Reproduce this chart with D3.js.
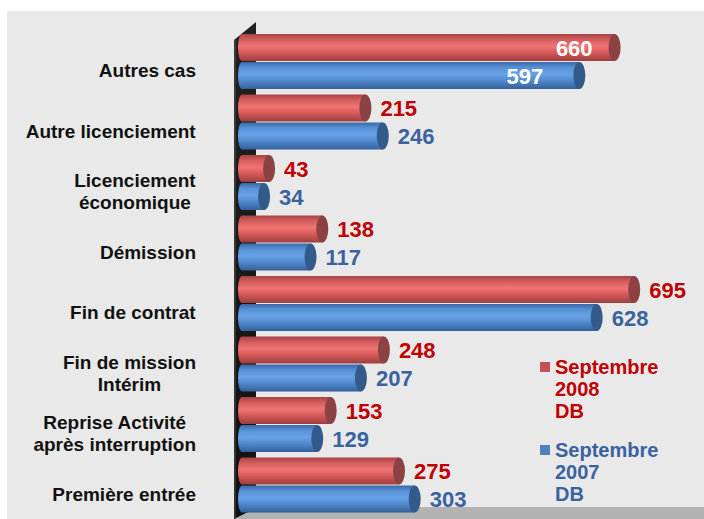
<!DOCTYPE html>
<html>
<head>
<meta charset="utf-8">
<script src="https://cdn.jsdelivr.net/npm/d3@7"></script>
<style>
  body { margin: 0; background: #fff; }
  text { font-family: "Liberation Sans", Arial, sans-serif; font-weight: bold; }
</style>
</head>
<body>
<svg width="704" height="519"></svg>
<script>
// categories, top to bottom (multi-line labels split with |)
var categories = ["Autres cas", "Autre licenciement", "Licenciement|économique", "Démission",
                  "Fin de contrat", "Fin de mission|Intérim", "Reprise Activité|après interruption", "Première entrée"];
var sept2008 = [660, 215, 43, 138, 695, 248, 153, 275];
var sept2007 = [597, 246, 34, 117, 628, 207, 129, 303];
var seriesNames = [["Septembre", "2008", "DB"], ["Septembre", "2007", "DB"]];

var width = 704, height = 519;
var svg = d3.select('svg');

var defs = svg.append('defs');
var mkGrad = function(id, stops) {
  var g = defs.append('linearGradient').attr('id', id)
      .attr('x1', 0).attr('y1', 0).attr('x2', 0).attr('y2', 1);
  stops.forEach(function(s) {
    g.append('stop').attr('offset', s[0]).attr('stop-color', s[1]);
  });
}
mkGrad('gRed', [[0, '#a84444'], [0.2, '#d35c5c'], [0.45, '#f07474'], [0.7, '#d45858'], [1, '#9c3e3e']]);
mkGrad('gBlue', [[0, '#3a68a6'], [0.2, '#5690d6'], [0.45, '#68a2e6'], [0.7, '#5088cc'], [1, '#34609a']]);
mkGrad('gWall', [[0, '#222'], [1, '#111']]);

// panel background
svg.append('rect').attr('x', 7).attr('y', 11).attr('width', width - 7).attr('height', height - 11)
    .attr('fill', '#e9e9e9');

// floor
svg.append('path').attr('d', 'M234,519 L252,507 L704,507 L704,519 Z').attr('fill', '#b3b3b3');

// back wall
svg.append('path').attr('d', 'M234,40 L256,22 L256,508 L234,519 Z').attr('fill', 'url(#gWall)');
svg.append('line').attr('x1', 235).attr('x2', 235).attr('y1', 40).attr('y2', 519)
    .attr('stroke', '#555').attr('stroke-width', 1);

var x = d3.scaleLinear().domain([0, 700]).range([245, 637]);
var y = d3.scaleBand().domain(categories).range([31, 515]);

var barH = 27, capRx = 6, x0 = 238;

var series = [
  {name: seriesNames[0], values: sept2008, fill: 'url(#gRed)', cap: '#8c4242', text: '#c00000', off: 3, inOff: 22},
  {name: seriesNames[1], values: sept2007, fill: 'url(#gBlue)', cap: '#325a8a', text: '#3a62a0', off: 31, inOff: 36}
];

series.forEach(function(s) {
  var g = svg.selectAll('.bar-' + s.off)
      .data(categories)
      .enter().append('g')
      .attr('transform', function(d) { return 'translate(0,' + (y(d) + s.off) + ')'; });

  g.append('path')
      .attr('d', function(d, i) {
        var xe = x(s.values[i]);
        var r = barH / 2;
        return 'M' + (x0 + 4) + ',0 L' + xe + ',0 L' + xe + ',' + barH + ' L' + (x0 + 4) + ',' + barH +
               ' A4,' + r + ' 0 0 1 ' + (x0 + 4) + ',0 Z';
      })
      .attr('fill', s.fill);

  g.append('ellipse')
      .attr('cx', function(d, i) { return x(s.values[i]); })
      .attr('cy', barH / 2)
      .attr('rx', capRx).attr('ry', barH / 2)
      .attr('fill', s.cap);

  // first row carries its labels inside the bar, in white
  g.append('text')
      .attr('x', function(d, i) {
        var v = s.values[i];
        return i == 0 ? x(v) - s.inOff : x(v) + capRx + 9;
      })
      .attr('y', barH / 2 + 8)
      .attr('text-anchor', function(d, i) { return i == 0 ? 'end' : 'start'; })
      .attr('font-size', 22)
      .attr('fill', function(d, i) { return i == 0 ? '#fff' : s.text; })
      .text(function(d, i) { return s.values[i]; });
});

// category labels, block right-aligned, lines centred on each other
categories.forEach(function(c) {
  var lines = c.split('|');
  var cy = y(c) + y.bandwidth() / 2 + 9;
  var t = svg.append('text').attr('font-size', 19).attr('fill', '#111').attr('text-anchor', 'middle');
  lines.forEach(function(l, i) {
    t.append('tspan').attr('x', 0).attr('y', cy + 7 + (i - (lines.length - 1) / 2) * 22).text(l);
  });
  var w = t.node().getBBox().width;
  t.selectAll('tspan').attr('x', 196 - w / 2);
});

// legend
var legend = svg.selectAll('.legend')
    .data(series)
    .enter().append('g')
    .attr('transform', function(d, i) { return 'translate(540,' + (362 + i * 83) + ')'; });
legend.append('rect').attr('width', 10).attr('height', 10)
    .attr('fill', function(d, i) { return i == 0 ? '#c55050' : '#4f80c0'; });
legend.each(function(d) {
  var t = d3.select(this).append('text').attr('font-size', 20).attr('fill', d.text);
  d.name.forEach(function(l, i) {
    t.append('tspan').attr('x', 15).attr('y', 12 + i * 22).text(l);
  });
});
</script>
</body>
</html>
